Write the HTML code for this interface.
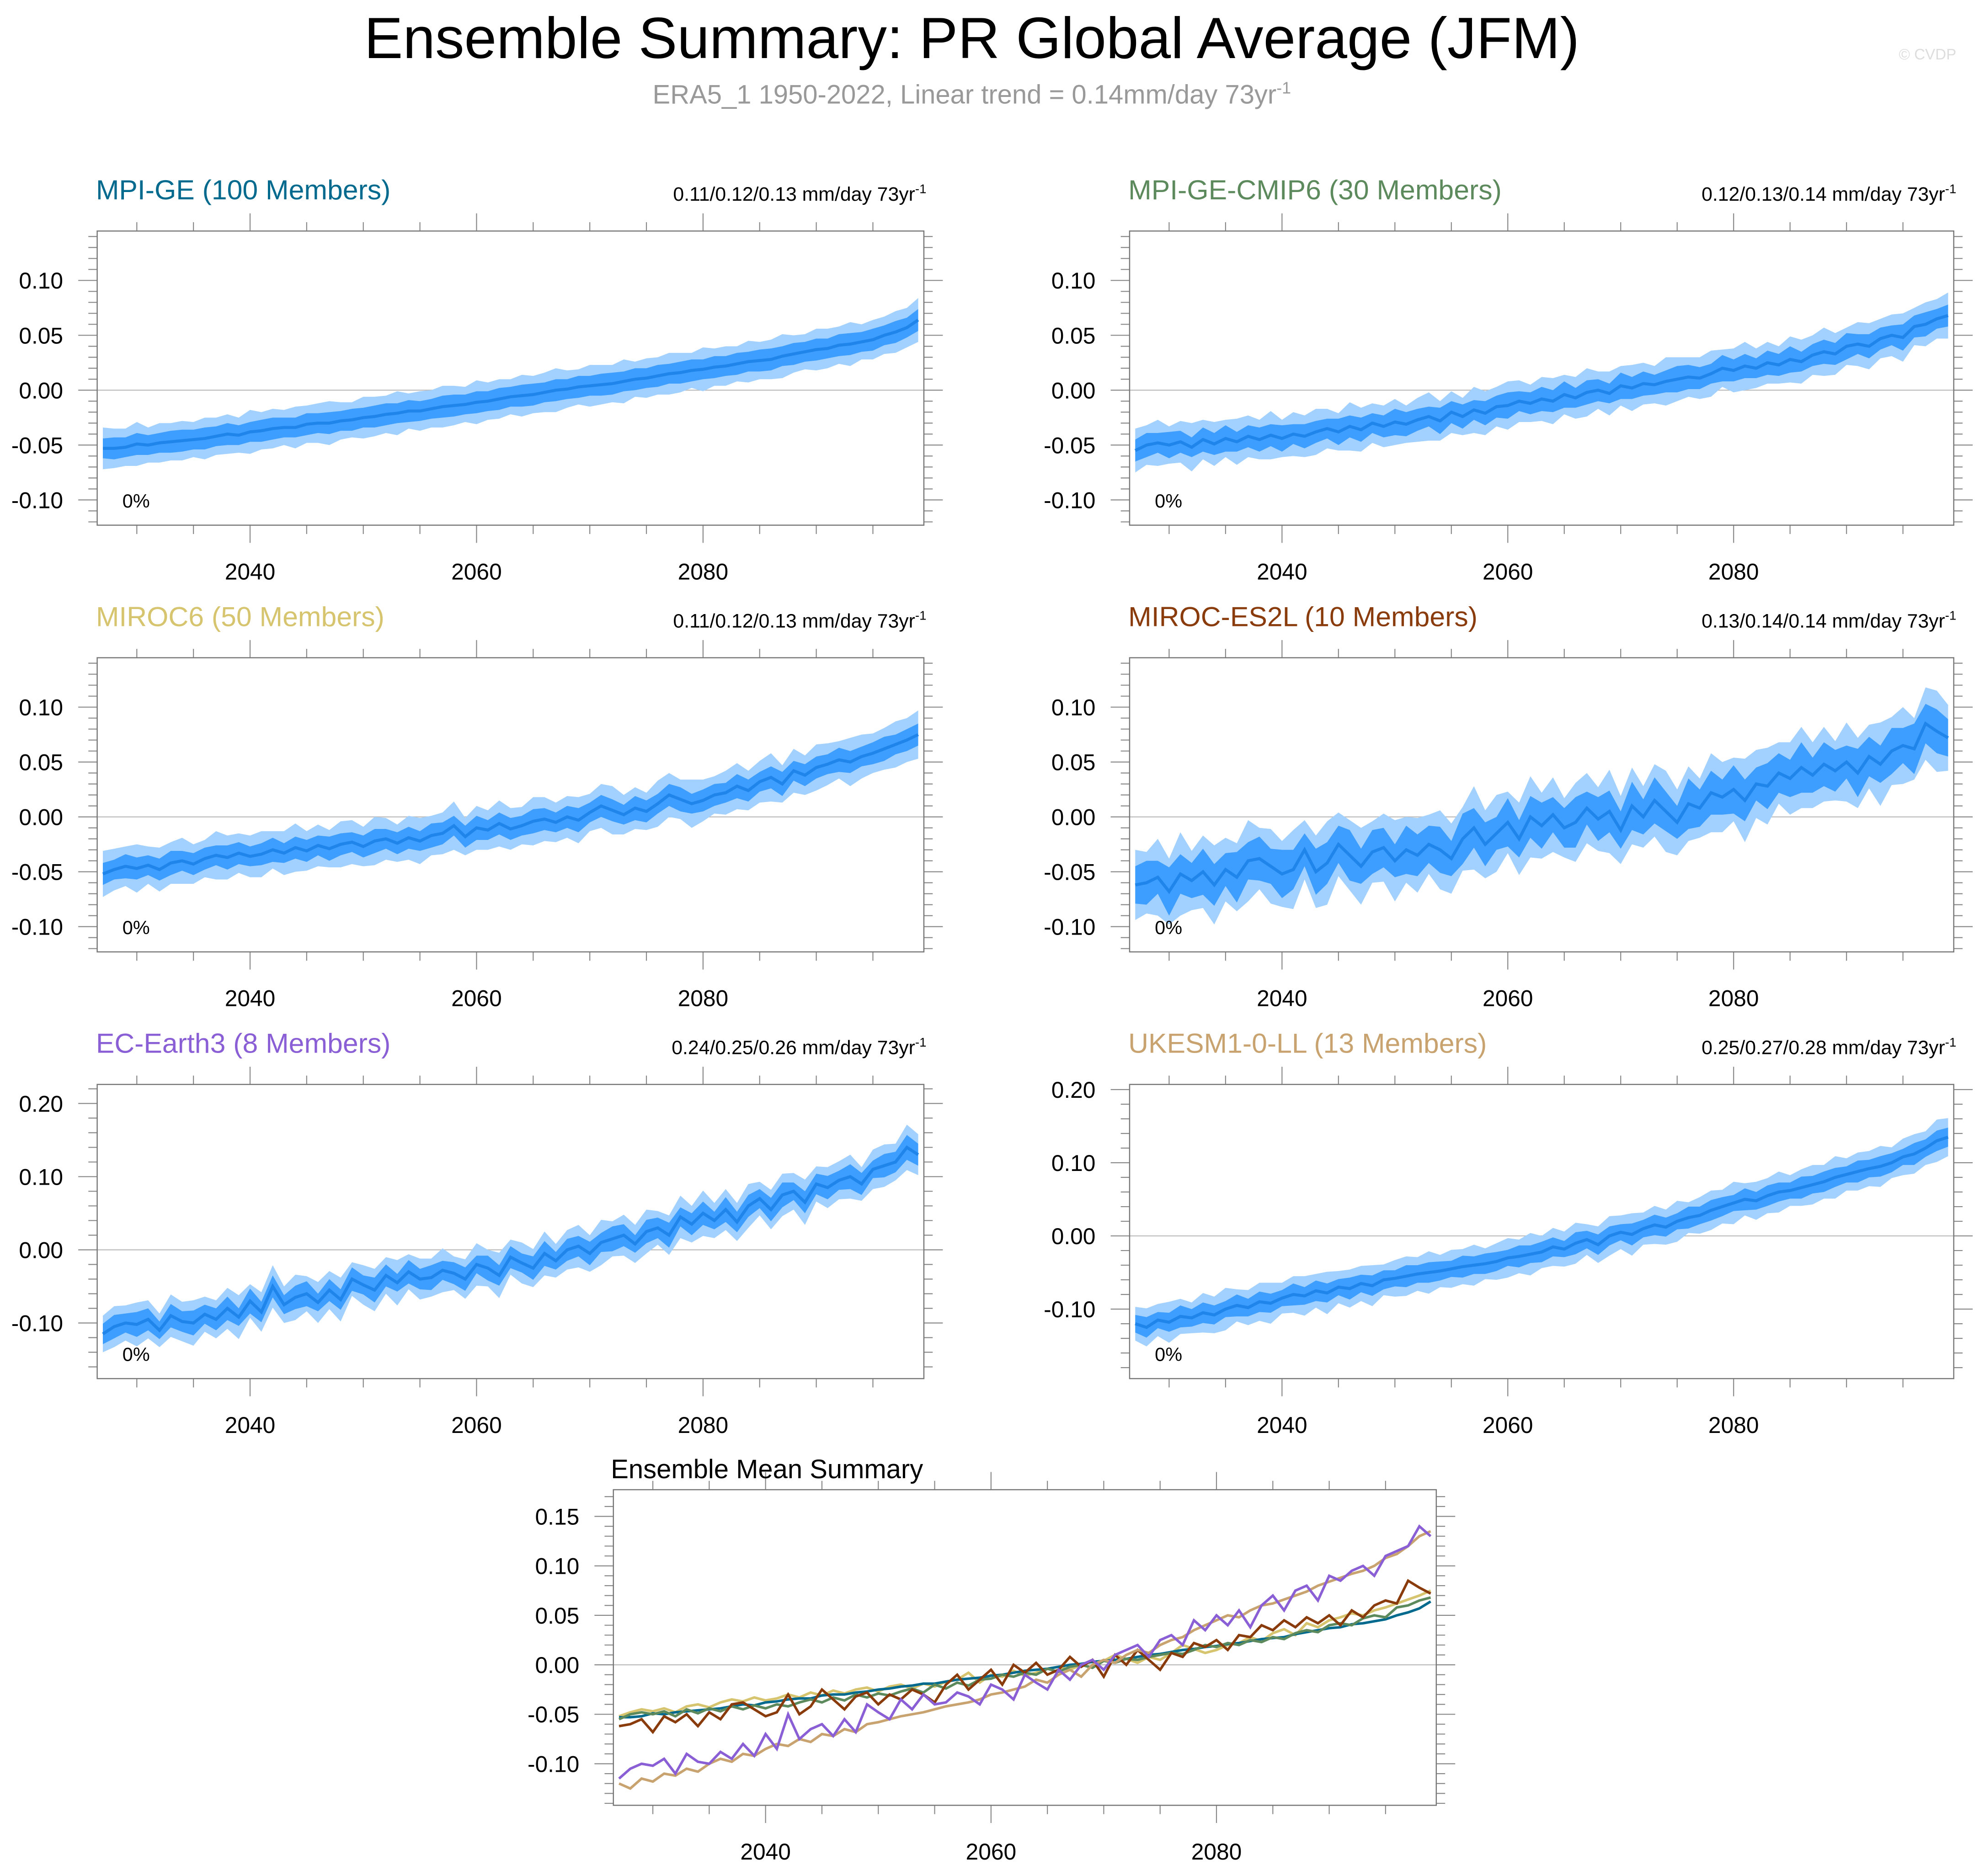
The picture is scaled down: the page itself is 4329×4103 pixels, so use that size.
<!DOCTYPE html>
<html><head><meta charset="utf-8">
<style>
html,body{margin:0;padding:0;background:#fff;}
svg{display:block;font-family:"Liberation Sans",Arial,sans-serif;}
</style></head>
<body>
<svg id="chart" xmlns="http://www.w3.org/2000/svg" width="4329" height="4103" viewBox="0 0 1568 1486" preserveAspectRatio="none">
<rect x="0" y="0" width="1568" height="1486" fill="#fff"/>
<text x="770" y="46" font-size="46" text-anchor="middle" fill="#000">Ensemble Summary: PR Global Average (JFM)</text>
<text x="770" y="82" font-size="21" text-anchor="middle" fill="#999">ERA5_1 1950-2022, Linear trend = 0.14mm/day 73yr<tspan dy="-8" font-size="13">-1</tspan></text>
<text x="1550" y="47" font-size="12" text-anchor="end" fill="#ddd">© CVDP</text>
<g id="plots"></g>
</svg>
<script>
// ---- data (values in mm/day, x1000), years 2027..2099 ----
const startYear = 2027;
const meanMPIGE = [-53,-53,-52,-49,-50,-48,-47,-46,-45,-44,-42,-40,-41,-38,-37,-35,-34,-34,-31,-30,-30,-28,-27,-25,-24,-22,-21,-19,-19,-17,-15,-14,-13,-11,-10,-8,-6,-5,-4,-2,0,1,3,4,5,6,8,10,11,13,15,16,18,19,21,22,24,26,27,28,31,33,35,37,38,41,42,44,46,50,53,57,64];
const meanCMIP6 = [-55,-50,-48,-50,-47,-52,-45,-49,-44,-47,-42,-45,-41,-44,-40,-42,-38,-35,-38,-33,-36,-30,-33,-29,-31,-27,-24,-28,-20,-24,-18,-21,-15,-14,-10,-12,-8,-10,-4,-7,-2,0,-3,4,2,6,5,8,10,12,11,15,20,18,22,20,25,23,28,26,32,35,33,40,42,40,47,50,48,58,60,65,68];
const meanMIROC6 = [-52,-48,-45,-47,-44,-48,-42,-40,-43,-38,-35,-37,-33,-36,-34,-30,-33,-28,-31,-26,-29,-25,-23,-27,-22,-20,-24,-19,-22,-17,-15,-8,-18,-10,-12,-6,-11,-8,-4,-2,-5,0,-3,4,10,6,2,8,5,12,20,16,12,15,20,22,28,24,32,36,30,42,38,45,48,52,50,55,58,62,66,70,75];
const meanES2L = [-62,-60,-55,-68,-52,-58,-50,-62,-48,-55,-40,-38,-45,-52,-48,-30,-50,-42,-25,-35,-45,-32,-28,-40,-30,-35,-25,-30,-38,-20,-10,-25,-15,-5,-20,0,-8,2,-10,-5,8,-2,5,-12,10,0,15,5,-5,12,8,22,18,25,15,30,28,40,35,45,38,48,42,50,40,55,48,60,65,62,85,78,72];
const meanECEarth = [-115,-105,-100,-102,-95,-110,-90,-98,-100,-88,-95,-80,-92,-70,-85,-50,-75,-65,-60,-72,-55,-68,-40,-48,-55,-35,-45,-30,-40,-38,-28,-32,-40,-20,-25,-35,-10,-18,-25,-5,-15,0,5,-5,10,15,20,8,25,30,20,45,35,50,40,55,38,60,70,55,75,80,65,90,85,95,100,90,110,115,120,140,130];
const meanUKESM = [-120,-125,-115,-118,-110,-112,-105,-108,-100,-95,-98,-90,-92,-85,-80,-82,-75,-78,-70,-72,-65,-68,-60,-58,-55,-52,-50,-48,-45,-42,-40,-38,-35,-30,-28,-25,-22,-15,-18,-10,-5,-12,0,5,2,10,15,12,20,25,28,35,40,45,50,48,55,60,62,66,70,74,80,84,88,92,95,100,108,112,120,130,135];

const innerMPIGE = [9,10,9,10,9,9,10,10,9,10,9,10,9,9,10,10,9,9,10,9,10,9,10,9,10,10,9,10,9,9,10,10,9,10,9,10,9,10,10,9,10,9,10,9,10,10,9,10,9,10,9,10,10,9,10,9,10,9,10,10,9,10,9,10,9,10,10,9,10,9,10,9,10];
const outerMPIGE = [19,18,17,20,16,18,17,18,16,19,17,18,16,20,17,18,16,19,17,18,20,17,16,19,18,17,20,16,18,17,19,18,16,20,17,18,16,19,17,18,20,17,16,19,18,17,20,16,18,17,19,18,16,20,17,18,16,19,17,18,20,17,16,19,18,17,20,16,18,17,19,18,20];
const innerCMIP6 = [10,11,9,12,10,9,11,10,12,9,10,11,10,12,9,11,10,9,12,10,11,9,10,12,11,10,9,12,10,11,9,11,10,12,9,10,11,10,12,9,11,10,9,12,10,11,9,10,12,11,10,9,12,10,11,9,11,10,12,9,10,11,10,12,9,11,10,9,12,10,11,9,10];
const outerCMIP6 = [20,18,21,17,19,22,18,20,17,21,19,18,22,17,20,19,21,18,17,22,20,18,19,21,17,20,22,18,19,17,21,20,18,22,19,17,20,21,18,19,22,17,20,18,21,19,17,22,20,18,19,21,17,20,22,18,19,17,21,20,18,22,19,17,20,21,18,19,22,17,20,18,21];
const innerMIROC6 = [10,9,11,10,9,10,11,9,10,10,9,11,10,9,10,11,9,10,10,9,11,10,9,10,11,9,10,10,9,11,10,9,10,11,9,10,10,9,11,10,9,10,11,9,10,10,9,11,10,9,10,11,9,10,10,9,11,10,9,10,11,9,10,10,9,11,10,9,10,11,9,10,10];
const outerMIROC6 = [21,19,18,22,17,20,19,21,18,17,22,20,18,19,21,17,20,22,18,19,17,21,20,18,22,19,17,20,21,18,19,22,17,20,18,21,19,17,22,20,18,19,21,17,20,22,18,19,17,21,20,18,22,19,17,20,21,18,19,22,17,20,18,21,19,17,22,20,18,19,21,20,22];
const innerES2L = [17,20,15,22,18,16,21,19,15,23,17,20,16,22,18,15,21,19,17,23,16,20,18,15,22,19,17,21,16,23,18,20,15,22,17,19,21,16,18,23,15,20,19,17,22,16,21,18,15,23,17,20,16,22,19,15,21,18,17,23,16,20,19,15,22,18,17,21,16,23,18,20,17];
const outerES2L = [32,28,35,30,38,27,33,36,29,31,37,28,34,30,36,27,33,38,29,32,35,28,31,37,30,34,27,36,32,29,38,31,35,28,33,37,30,34,27,36,32,29,38,31,35,28,33,37,30,34,27,36,32,29,38,31,35,28,33,37,30,34,27,36,32,29,38,31,35,28,33,37,30];
const innerECEarth = [14,16,13,17,15,12,16,14,17,13,15,16,12,17,14,15,13,16,17,12,15,14,16,13,17,15,12,16,14,17,13,15,16,12,17,14,15,13,16,17,12,15,14,16,13,17,15,12,16,14,17,13,15,16,12,17,14,15,13,16,17,12,15,14,16,13,17,15,12,16,14,17,15];
const outerECEarth = [25,28,24,30,26,23,29,27,31,24,26,28,30,23,27,29,25,31,24,28,26,30,23,27,29,25,31,24,28,26,30,23,27,29,25,31,24,28,26,30,23,27,29,25,31,24,28,26,30,23,27,29,25,31,24,28,26,30,23,27,29,25,31,24,28,26,30,23,27,29,25,31,28];
const innerUKESM = [12,14,11,13,15,12,14,13,11,15,12,14,13,11,15,12,14,13,11,15,12,14,13,11,15,12,14,13,11,15,12,14,13,11,15,12,14,13,11,15,12,14,13,11,15,12,14,13,11,15,12,14,13,11,15,12,14,13,11,15,12,14,13,11,15,12,14,13,11,15,12,14,13];
const outerUKESM = [23,26,22,28,24,21,27,25,29,22,24,26,28,21,25,27,23,29,22,26,24,28,21,25,27,23,29,22,26,24,28,21,25,27,23,29,22,26,24,28,21,25,27,23,29,22,26,24,28,21,25,27,23,29,22,26,24,28,21,25,27,23,29,22,26,24,28,21,25,27,23,29,26];

const xTickLabels = ["2040","2060","2080"];
const yTicksSmall = ["-0.10","-0.05","0.00","0.05","0.10"];
const yTicksLarge = ["-0.10","0.00","0.10","0.20"];
const yTicksSummary = ["-0.10","-0.05","0.00","0.05","0.10","0.15"];

const NS = "http://www.w3.org/2000/svg";
const root = document.getElementById('plots');
function mk(tag, attrs, parent){
  const e = document.createElementNS(NS, tag);
  for (const k in attrs) e.setAttribute(k, attrs[k]);
  (parent||root).appendChild(e);
  return e;
}

function drawAxes(g, P){
  const sx = y => P.x0 + (y - 2026.5) / 73 * (P.x1 - P.x0);
  const sy = v => P.y1 - (v - P.ymin) / (P.ymax - P.ymin) * (P.y1 - P.y0);
  mk('line',{x1:P.x0,x2:P.x1,y1:sy(0),y2:sy(0),stroke:'#bbb','stroke-width':0.8},g);
  for (let yr = 2030; yr <= 2095; yr += 5){
    const x = sx(yr), major = (yr % 20 === 0);
    const L = major ? 14 : 7;
    mk('line',{x1:x,x2:x,y1:P.y0,y2:P.y0-L,stroke:'#888','stroke-width':0.8},g);
    mk('line',{x1:x,x2:x,y1:P.y1,y2:P.y1+L,stroke:'#888','stroke-width':0.8},g);
  }
  xTickLabels.forEach(t=>{
    const tx = mk('text',{x:sx(+t),y:P.y1+43,'font-size':18,'text-anchor':'middle',fill:'#000'},g);
    tx.textContent = t;
    
    
  });
  const minor = P.major/5;
  const n0 = Math.ceil(P.ymin/minor - 1e-6), n1 = Math.floor(P.ymax/minor + 1e-6);
  for (let n = n0; n <= n1; n++){
    const v = n*minor, y = sy(v);
    const isMaj = Math.abs(v/P.major - Math.round(v/P.major)) < 1e-6;
    const L = isMaj ? 15 : 7;
    mk('line',{x1:P.x0,x2:P.x0-L,y1:y,y2:y,stroke:'#888','stroke-width':0.8},g);
    mk('line',{x1:P.x1,x2:P.x1+L,y1:y,y2:y,stroke:'#888','stroke-width':0.8},g);
  }
  P.ylabels.forEach(t=>{
    const tx = mk('text',{x:P.x0-27,y:sy(+t)+6.5,'font-size':18,'text-anchor':'end',fill:'#000'},g);
    tx.textContent = t;
    
    
  });
  return {sx, sy};
}

function panel(P){
  const g = mk('g',{});
  
  
  const {sx, sy} = drawAxes(g, P);
  const m = P.mean, wi = P.inner, wo = P.outer;
  function band(w, fill, nm){
    let up = [], dn = [];
    for (let i = 0; i < m.length; i++){
      const x = sx(startYear + i), ww = w[i % w.length];
      up.push(x.toFixed(2)+','+sy((m[i]+ww)/1000).toFixed(2));
      dn.unshift(x.toFixed(2)+','+sy((m[i]-ww)/1000).toFixed(2));
    }
    const p = mk('polygon',{points:up.concat(dn).join(' '),fill:fill},g);
    
    
  }
  band(wo, '#a2d1ff', 'outer-spread-band');
  band(wi, '#3d9eff', 'inner-spread-band');
  const pts = m.map((v,i)=>sx(startYear+i).toFixed(2)+','+sy(v/1000).toFixed(2)).join(' ');
  const ln = mk('polyline',{points:pts,fill:'none',stroke:'#1f85ea','stroke-width':2.4},g);
  
  
  mk('rect',{x:P.x0,y:P.y0,width:P.x1-P.x0,height:P.y1-P.y0,fill:'none',stroke:'#777','stroke-width':0.9},g);
  const t = mk('text',{x:P.x0-1,y:P.y0-25,'font-size':22,fill:P.color},g);
  t.textContent = P.title;
  
  
  const r = mk('text',{x:P.x1+2,y:P.y0-24,'font-size':15.5,'text-anchor':'end',fill:'#000'},g);
  r.innerHTML = P.trend + ' mm/day 73yr<tspan dy="-6" font-size="10">-1</tspan>';
  
  
  const pc = mk('text',{x:P.x0+20,y:P.y1-14,'font-size':15,fill:'#000'},g);
  pc.textContent = '0%';
  
  
}

const smallR = {ymin:-0.123, ymax:0.145, major:0.05, ylabels:yTicksSmall};
panel(Object.assign({name:'panel-mpi-ge',x0:77,x1:732,y0:183,y1:416,mean:meanMPIGE,inner:innerMPIGE,outer:outerMPIGE,title:'MPI-GE (100 Members)',color:'#006a8e',trend:'0.11/0.12/0.13'},smallR));
panel(Object.assign({name:'panel-mpi-ge-cmip6',x0:895,x1:1548,y0:183,y1:416,mean:meanCMIP6,inner:innerCMIP6,outer:outerCMIP6,title:'MPI-GE-CMIP6 (30 Members)',color:'#5d8a5d',trend:'0.12/0.13/0.14'},smallR));
panel(Object.assign({name:'panel-miroc6',x0:77,x1:732,y0:521,y1:754,mean:meanMIROC6,inner:innerMIROC6,outer:outerMIROC6,title:'MIROC6 (50 Members)',color:'#d6c46e',trend:'0.11/0.12/0.13'},smallR));
panel(Object.assign({name:'panel-miroc-es2l',x0:895,x1:1548,y0:521,y1:754,mean:meanES2L,inner:innerES2L,outer:outerES2L,title:'MIROC-ES2L (10 Members)',color:'#8a3b0c',trend:'0.13/0.14/0.14'},smallR));
panel({name:'panel-ec-earth3',x0:77,x1:732,y0:859,y1:1092,ymin:-0.176,ymax:0.226,major:0.1,ylabels:yTicksLarge,mean:meanECEarth,inner:innerECEarth,outer:outerECEarth,title:'EC-Earth3 (8 Members)',color:'#8a5fd6',trend:'0.24/0.25/0.26'});
panel({name:'panel-ukesm1-0-ll',x0:895,x1:1548,y0:859,y1:1092,ymin:-0.195,ymax:0.207,major:0.1,ylabels:yTicksLarge,mean:meanUKESM,inner:innerUKESM,outer:outerUKESM,title:'UKESM1-0-LL (13 Members)',color:'#c9a36f',trend:'0.25/0.27/0.28'});

(function(){
  const P = {x0:486,x1:1138,y0:1180,y1:1430,ymin:-0.142,ymax:0.177,major:0.05,ylabels:yTicksSummary};
  const g = mk('g',{});
  
  
  const {sx, sy} = drawAxes(g, P);
  const series = [[meanMIROC6,'#d6c46e'],[meanMPIGE,'#006a8e'],[meanCMIP6,'#5d8a5d'],[meanES2L,'#8a3b0c'],[meanUKESM,'#c9a36f'],[meanECEarth,'#8a5fd6']];
  series.forEach(([m,c])=>{
    const pts = m.map((v,i)=>sx(startYear+i).toFixed(2)+','+sy(v/1000).toFixed(2)).join(' ');
    const l = mk('polyline',{points:pts,fill:'none',stroke:c,'stroke-width':2},g);
    
    
  });
  mk('rect',{x:P.x0,y:P.y0,width:P.x1-P.x0,height:P.y1-P.y0,fill:'none',stroke:'#777','stroke-width':0.9},g);
  const t = mk('text',{x:484,y:1171,'font-size':21,fill:'#000'},g);
  t.textContent = 'Ensemble Mean Summary';
  
  
})();
</script>
</body></html>
